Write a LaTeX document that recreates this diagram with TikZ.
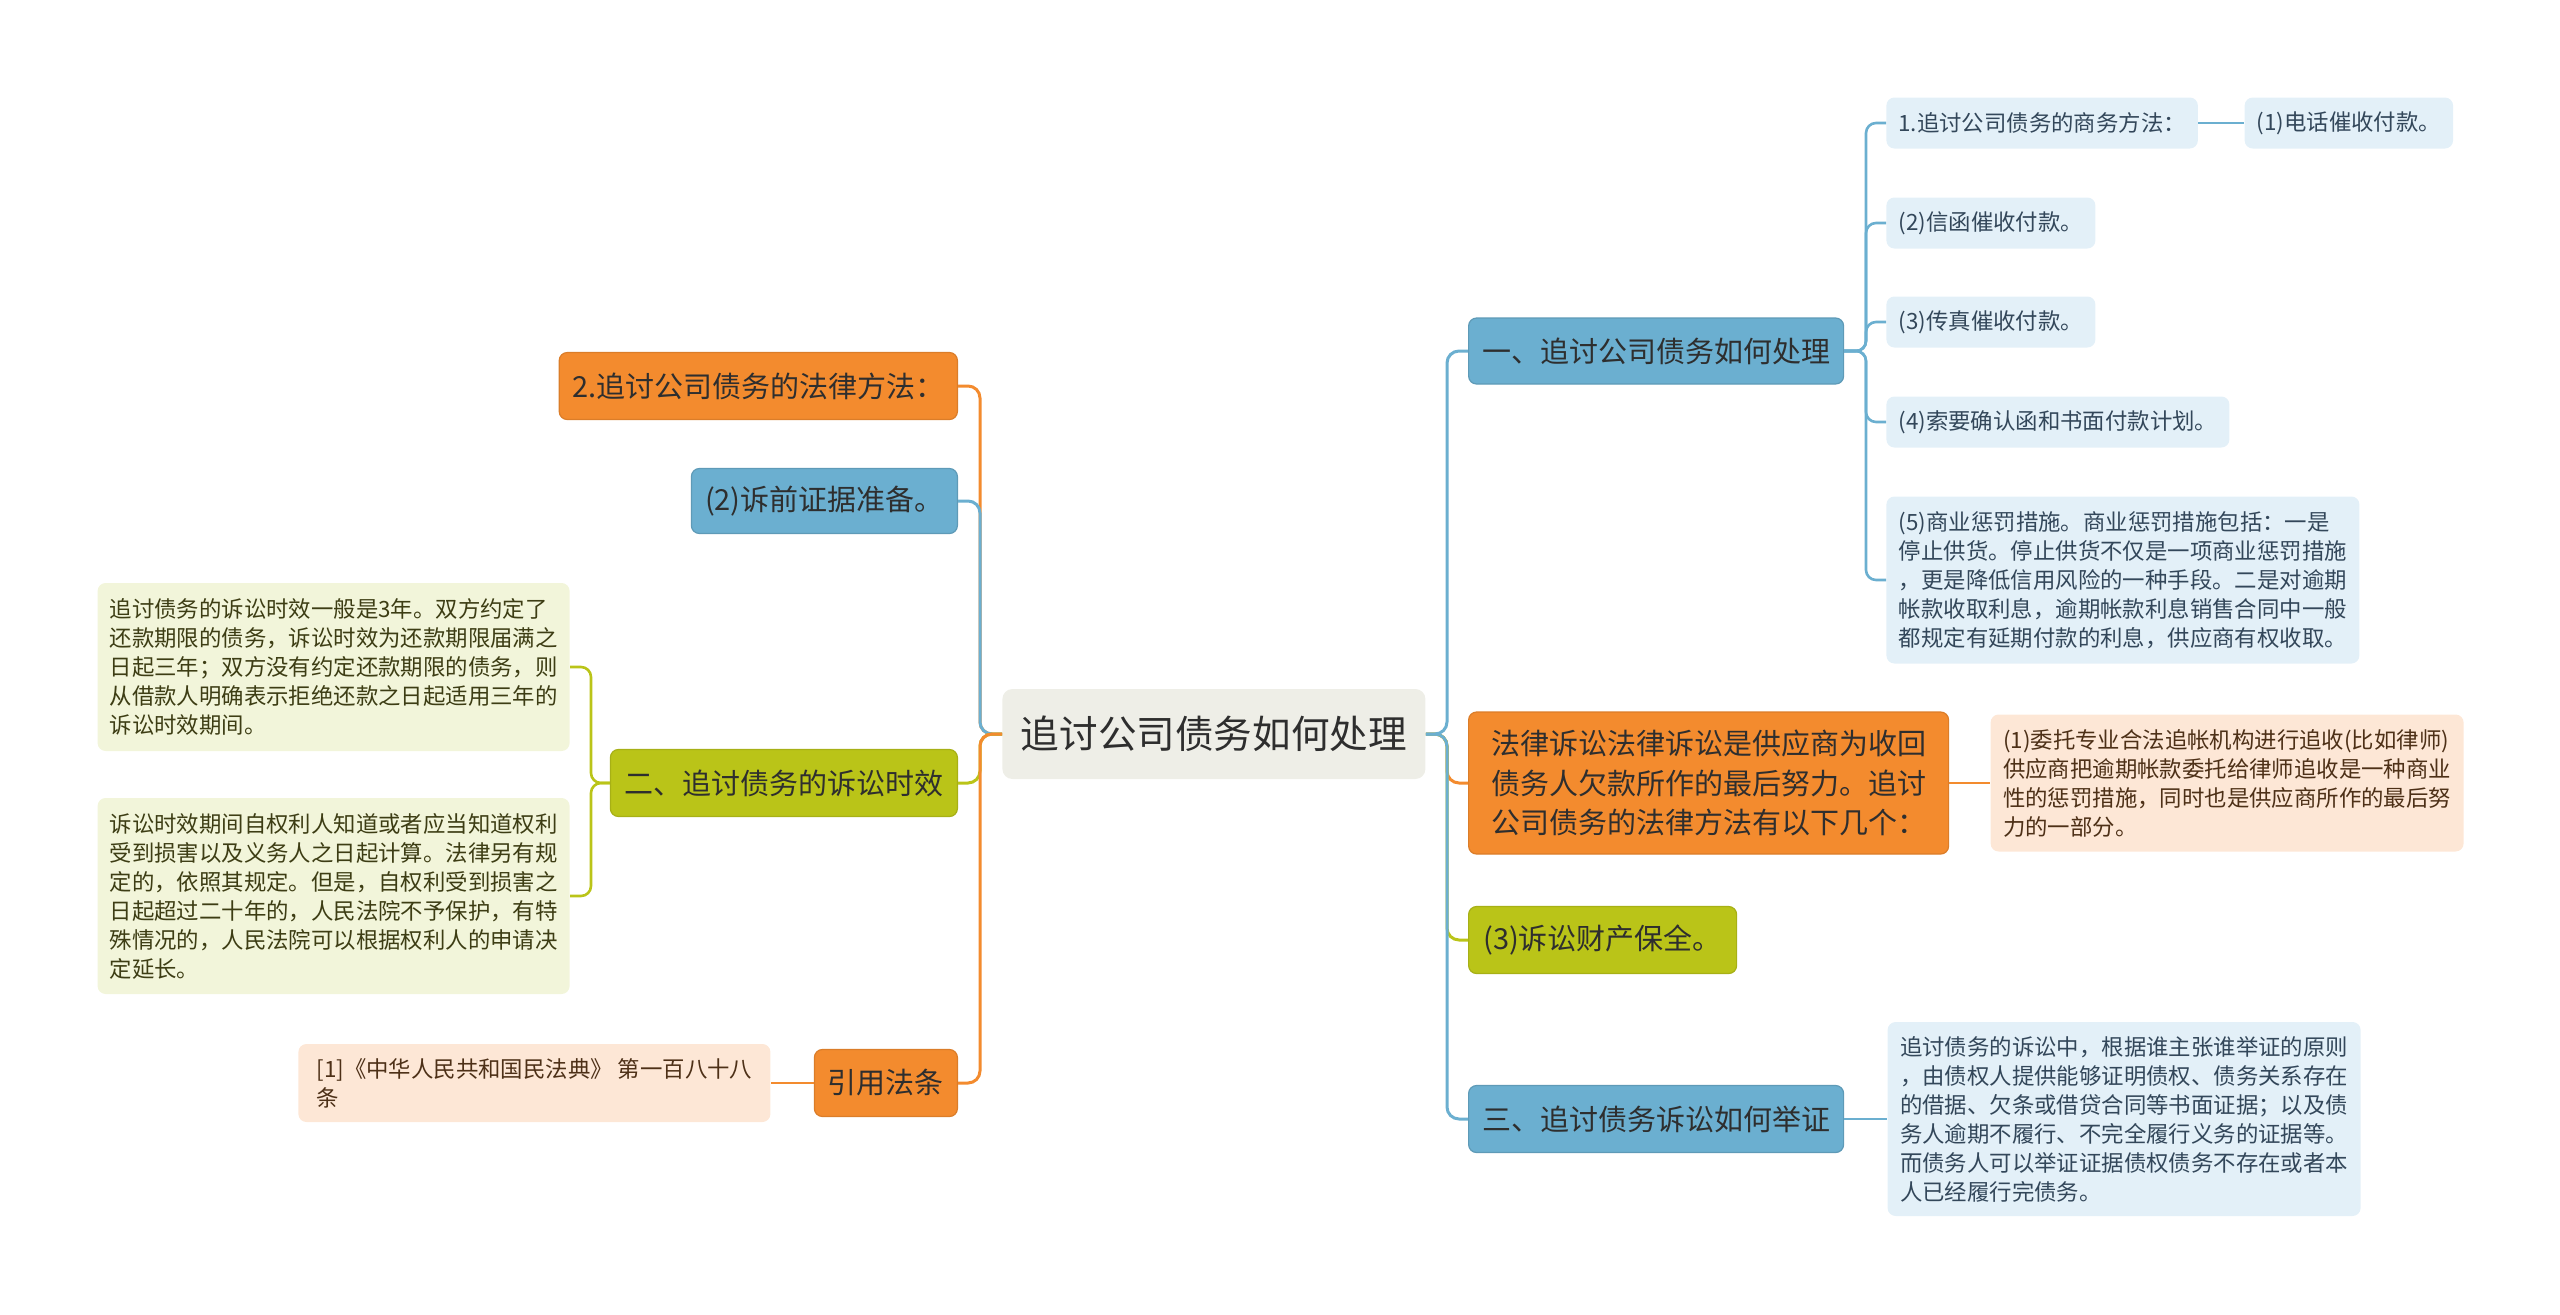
\documentclass[tikz,border=0pt]{standalone}
\usepackage{fontspec}
\setmainfont{Noto Sans CJK SC}
\usetikzlibrary{positioning}

\definecolor{cblue}{HTML}{6BAFD0}
\definecolor{corange}{HTML}{F38B2E}
\definecolor{cgreen}{HTML}{BAC418}
\definecolor{rootfill}{HTML}{EEEEE7}
\definecolor{lblue}{HTML}{E3F0F8}
\definecolor{lpeach}{HTML}{FDE7D6}
\definecolor{lgreen}{HTML}{F2F5DA}
\definecolor{textdark}{HTML}{2E2E2E}
\definecolor{tblue}{HTML}{33475A}
\definecolor{tbrown}{HTML}{4D3017}
\definecolor{tolive}{HTML}{3D3D14}

\begin{document}
\begin{tikzpicture}[
  x=0.5pt, y=-0.5pt,
  link/.style={line width=1.5pt, rounded corners=6pt},
  sublink/.style={line width=1.3pt, rounded corners=5pt},
  rootbox/.style={fill=rootfill, rounded corners=5pt, text=textdark,
    font=\fontsize{19.3}{23}\selectfont, inner xsep=6pt},
  mainbox/.style={rounded corners=4pt, text=textdark, align=left, line width=0.6pt,
    font=\fontsize{14.5}{19.6}\selectfont, inner xsep=6.5pt, minimum height=33.5pt},
  blueb/.style={mainbox, fill=cblue, draw=cblue!88!black},
  orangeb/.style={mainbox, fill=corange, draw=corange!90!black},
  greenb/.style={mainbox, fill=cgreen, draw=cgreen!90!black},
  leaf/.style={rounded corners=4pt, align=left,
    font=\fontsize{11.2}{14.5}\selectfont, inner xsep=6pt, minimum height=25.5pt},
  leafblue/.style={leaf, fill=lblue, text=tblue},
  leafpeach/.style={leaf, fill=lpeach, text=tbrown},
  leafgreen/.style={leaf, fill=lgreen, text=tolive}
]
  \useasboundingbox (0,0) rectangle (2560,1314);

  % --- Centre ---
  \node[rootbox, anchor=west, minimum width=211.5pt, minimum height=45pt] (root) at (1002,734) {追讨公司债务如何处理};

  % --- Droite ---
  \node[blueb, anchor=west, minimum width=187.5pt, minimum height=33pt] (chuli) at (1468,351) {一、追讨公司债务如何处理};
  \node[leafblue, anchor=west, minimum width=155pt] (shangwu) at (1886,123) {1.追讨公司债务的商务方法：};
  \node[leafblue, right=23pt of shangwu, minimum width=102.5pt] (dianhua) {(1)电话催收付款。};
  \node[leafblue, anchor=west, minimum width=104.5pt] (xinhan) at (1886,223) {(2)信函催收付款。};
  \node[leafblue, anchor=west, minimum width=104.5pt] (chuanzhen) at (1886,322) {(3)传真催收付款。};
  \node[leafblue, anchor=west, minimum width=171.5pt] (suoyao) at (1886,422) {(4)索要确认函和书面付款计划。};
  \node[leafblue, anchor=west, minimum width=236.5pt, minimum height=83.5pt] (chengfa) at (1886,580)
    {(5)商业惩罚措施。商业惩罚措施包括：一是\\停止供货。停止供货不仅是一项商业惩罚措施\\，更是降低信用风险的一种手段。二是对逾期\\帐款收取利息，逾期帐款利息销售合同中一般\\都规定有延期付款的利息，供应商有权收取。};

  \node[orangeb, anchor=west, minimum width=240pt, minimum height=71pt] (susong) at (1468,783)
    {法律诉讼法律诉讼是供应商为收回\\债务人欠款所作的最后努力。追讨\\公司债务的法律方法有以下几个：};
  \node[leafpeach, right=20.5pt of susong, minimum width=236.5pt, minimum height=68.5pt] (weituo)
    {(1)委托专业合法追帐机构进行追收(比如律师)\\供应商把逾期帐款委托给律师追收是一种商业\\性的惩罚措施，同时也是供应商所作的最后努\\力的一部分。};

  \node[greenb, anchor=west, minimum width=134pt] (baoquan) at (1468,940) {(3)诉讼财产保全。};

  \node[blueb, anchor=west, minimum width=187.5pt] (juzheng) at (1468,1119) {三、追讨债务诉讼如何举证};
  \node[leafblue, right=21.5pt of juzheng, minimum width=236.5pt, minimum height=97pt] (zhengju)
    {追讨债务的诉讼中，根据谁主张谁举证的原则\\，由债权人提供能够证明债权、债务关系存在\\的借据、欠条或借贷合同等书面证据；以及债\\务人逾期不履行、不完全履行义务的证据等。\\而债务人可以举证证据债权债务不存在或者本\\人已经履行完债务。};

  % --- Gauche ---
  \node[orangeb, anchor=east, minimum width=199pt] (fangfa) at (958,386) {2.追讨公司债务的法律方法：};
  \node[blueb, anchor=east, minimum width=133pt, minimum height=32.5pt] (zhunbei) at (958,501) {(2)诉前证据准备。};

  \node[greenb, anchor=east, minimum width=173.5pt] (shixiao) at (958,783) {二、追讨债务的诉讼时效};
  \node[leafgreen, anchor=east, minimum width=236pt, minimum height=84pt] (sannian) at (570,667)
    {追讨债务的诉讼时效一般是3年。双方约定了\\还款期限的债务，诉讼时效为还款期限届满之\\日起三年；双方没有约定还款期限的债务，则\\从借款人明确表示拒绝还款之日起适用三年的\\诉讼时效期间。};
  \node[leafgreen, anchor=east, minimum width=236pt, minimum height=98pt] (qisuan) at (570,896)
    {诉讼时效期间自权利人知道或者应当知道权利\\受到损害以及义务人之日起计算。法律另有规\\定的，依照其规定。但是，自权利受到损害之\\日起超过二十年的，人民法院不予保护，有特\\殊情况的，人民法院可以根据权利人的申请决\\定延长。};

  \node[orangeb, anchor=east, minimum width=71.5pt] (yinyong) at (958,1083) {引用法条};
  \node[leafpeach, left=21.5pt of yinyong, minimum width=236pt, minimum height=39pt] (fatiao)
    {[1]《中华人民共和国民法典》 第一百八十八\\条};

  % --- Liens ---
  \coordinate (ltrunk) at (980,734);
  \coordinate (rtrunk) at (1447,734);
  \coordinate (ctrunk) at (1866,351);
  \coordinate (strunk) at (591,783);

  \draw[link, draw=corange] (root.west) -- (ltrunk) |- (fangfa.east);
  \draw[link, draw=cblue] (root.west) -- (ltrunk) |- (zhunbei.east);
  \draw[link, draw=cgreen] (root.west) -- (ltrunk) |- (shixiao.east);
  \draw[link, draw=corange] (root.west) -- (ltrunk) |- (yinyong.east);

  \draw[link, draw=corange] (root.east) -- (rtrunk) |- (susong.west);
  \draw[link, draw=cgreen] (root.east) -- (rtrunk) |- (baoquan.west);
  \draw[link, draw=cblue] (root.east) -- (rtrunk) |- (chuli.west);
  \draw[link, draw=cblue] (root.east) -- (rtrunk) |- (juzheng.west);

  \foreach \leafname in {shangwu, xinhan, chuanzhen, suoyao, chengfa}
    \draw[sublink, draw=cblue] (chuli.east) -- (ctrunk) |- (\leafname.west);
  \draw[sublink, draw=cblue] (shangwu) -- (dianhua);
  \draw[sublink, draw=corange] (susong) -- (weituo);
  \draw[sublink, draw=cblue] (juzheng) -- (zhengju);

  \draw[sublink, draw=cgreen] (shixiao.west) -- (strunk) |- (sannian.east);
  \draw[sublink, draw=cgreen] (shixiao.west) -- (strunk) |- (qisuan.east);
  \draw[sublink, draw=corange] (yinyong) -- (fatiao);

\end{tikzpicture}
\end{document}
